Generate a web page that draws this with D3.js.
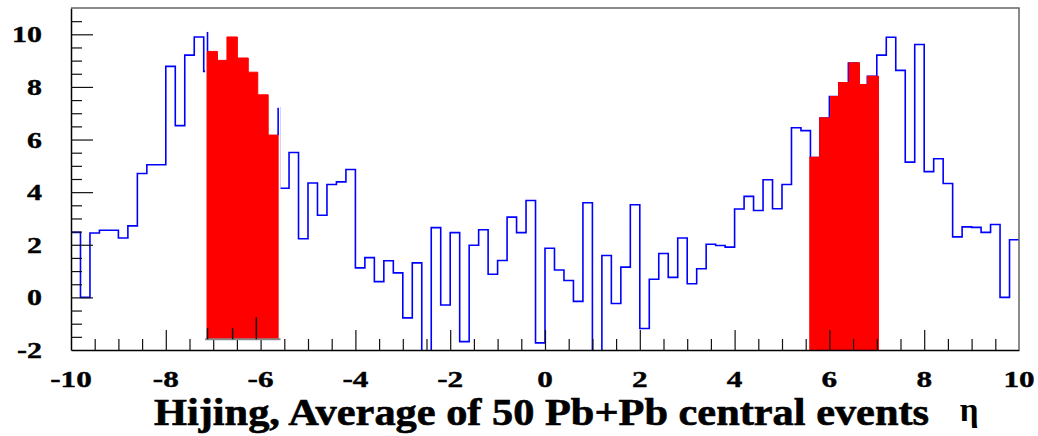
<!DOCTYPE html>
<html>
<head>
<meta charset="utf-8">
<script src="https://cdn.jsdelivr.net/npm/d3@7"></script>
<style>
  html, body { margin: 0; padding: 0; background: #fff; }
  svg { display: block; }
  text { font-family: "Liberation Serif", "DejaVu Serif", serif; font-weight: bold; fill: #000; }
</style>
</head>
<body>
<svg id="chart" width="1038" height="436"></svg>
<script>
// --- data ---
// blue histogram: 100 bins of width 0.2 from eta = -10 to 10
const etaRange = [-10, 10];
const blueValues = [
  2.47, 0.00, 2.45, 2.55, 2.55, 2.26, 2.72, 4.71, 5.04, 5.04,
  8.78, 6.53, 9.21, 9.90, 8.59, 9.01, 9.90, 9.10, 8.56, 7.70,
  6.17, 7.21, 4.15, 5.51, 2.23, 4.35, 3.12, 4.29, 4.39, 4.86,
  1.12, 1.51, 0.60, 1.39, 0.93, -0.78, 1.31, -2.60, 2.65, -0.29,
  2.46, -1.68, 1.98, 2.57, 0.88, 1.40, 3.05, 2.46, 3.68, -1.73,
  1.87, 1.04, 0.64, -0.15, 3.60, -2.60, 1.59, -0.23, 1.15, 3.52,
  -1.18, 0.69, 1.67, 0.76, 2.26, 0.52, 1.09, 2.02, 1.97, 1.91,
  3.36, 3.84, 3.30, 4.47, 3.37, 4.29, 6.45, 6.34, 5.32, 6.82,
  7.63, 8.16, 8.91, 8.08, 8.40, 9.21, 9.89, 8.63, 5.14, 9.61,
  4.78, 5.27, 4.33, 2.30, 2.68, 2.66, 2.47, 2.77, 0.00, 2.19
];

// red highlighted bins, right side (drawn in the main frame)
const redRightEdges = [5.59, 5.80, 6.03, 6.20, 6.42, 6.63, 6.81, 7.03];
const redRightValues = [5.32, 6.82, 7.63, 8.16, 8.91, 8.08, 8.40];

// red highlighted bins, left side (drawn in a small overlaid pad)
const padRange = [-7.17, -5.58];
const padBase = -1.59;
const redLeftEdges = [-7.13, -6.91, -6.71, -6.49, -6.26, -6.06, -5.84, -5.63];
const redLeftValues = [9.35, 9.01, 9.90, 9.10, 8.56, 7.70, 6.17];
const padSpikes = [
  { x: -7.12, from: 9.35, to: 10.09 },
  { x: -5.63, from: 6.17, to: 7.21 }
];
const padTickValues = [-7.12, -6.59, -6.09];
const padMajorTick = -6.09;

// axes
const yDomain = [-2, 11];
const xTickLabels = [-10, -8, -6, -4, -2, 0, 2, 4, 6, 8, 10];
const yTickLabels = [-2, 0, 2, 4, 6, 8, 10];
const titleText = "Hijing, Average of 50 Pb+Pb central events";
const axisSymbol = "η";

// --- layout ---
const width = 1038, height = 436;
const margin = { top: 8, right: 19, bottom: 86, left: 71 };
const innerWidth = width - margin.left - margin.right;
const innerHeight = height - margin.top - margin.bottom;

const svg = d3.select("#chart");
const inner = svg.append("g")
  .attr("transform", `translate(${margin.left},${margin.top})`);

const xScale = d3.scaleLinear().domain(etaRange).range([0, innerWidth]);
const yScale = d3.scaleLinear().domain(yDomain).range([innerHeight, 0]);

const binWidth = (etaRange[1] - etaRange[0]) / blueValues.length;

svg.append("defs").append("clipPath").attr("id", "plot-clip")
  .append("rect").attr("width", innerWidth).attr("height", innerHeight);

const plot = inner.append("g").attr("clip-path", "url(#plot-clip)");

// blue step outline
const bluePoints = blueValues.map((v, i) => [etaRange[0] + i * binWidth, v]);
bluePoints.push([etaRange[1], blueValues[blueValues.length - 1]]);

plot.append("path")
  .datum(bluePoints)
  .attr("fill", "none")
  .attr("stroke", "#0000ff")
  .attr("stroke-width", 1.6)
  .attr("d", d3.line()
    .x(d => xScale(d[0]))
    .y(d => yScale(d[1]))
    .curve(d3.curveStepAfter));

// helper: filled step area from edges + values
function stepArea(edges, values, base) {
  const pts = values.map((v, i) => [edges[i], v]);
  pts.push([edges[edges.length - 1], values[values.length - 1]]);
  return d3.area()
    .x(d => xScale(d[0]))
    .y0(yScale(base))
    .y1(d => yScale(d[1]))
    .curve(d3.curveStepAfter)(pts);
}

// right red bins
plot.append("path")
  .attr("d", stepArea(redRightEdges, redRightValues, yDomain[0]))
  .attr("fill", "#ff0000")
  .attr("stroke", "#ff0000")
  .attr("stroke-width", 1.5);

// --- axes (ticks inside the frame, ROOT style) ---
const xMinor = d3.range(-19, 20).map(d => d / 2);
const yMinor = d3.range(-3, 22).map(d => d / 2);

const xAxis = inner.append("g").attr("class", "axis--x")
  .attr("transform", `translate(0,${innerHeight})`)
  .call(d3.axisBottom(xScale).tickValues(xMinor).tickSizeInner(-11).tickSizeOuter(0).tickFormat(""));
xAxis.selectAll(".tick line")
  .attr("y2", d => (d % 2 === 0 ? -20 : -11));

const yAxis = inner.append("g").attr("class", "axis--y")
  .call(d3.axisLeft(yScale).tickValues(yMinor).tickSizeInner(-11).tickSizeOuter(0).tickFormat(""));
yAxis.selectAll(".tick line")
  .attr("x2", d => (d % 2 === 0 ? 22 : 11));

inner.selectAll(".axis--x path, .axis--y path")
  .attr("stroke", "#000").attr("stroke-width", 1.5);
inner.selectAll(".tick line").attr("stroke", "#111").attr("stroke-width", 1.2);

// frame top and right
inner.append("path")
  .attr("d", `M0,0H${innerWidth}V${innerHeight}`)
  .attr("fill", "none")
  .attr("stroke", "#666")
  .attr("stroke-width", 1.5);

// --- left overlay pad ---
const pad = inner.append("g").attr("class", "pad");
pad.append("rect")
  .attr("x", xScale(padRange[0]))
  .attr("width", xScale(padRange[1]) - xScale(padRange[0]))
  .attr("y", yScale(10.6))
  .attr("height", yScale(padBase) - yScale(10.6))
  .attr("fill", "#fff");

pad.append("path")
  .attr("d", stepArea(redLeftEdges, redLeftValues, padBase))
  .attr("fill", "#ff0000")
  .attr("stroke", "#ff0000")
  .attr("stroke-width", 1);

pad.selectAll(".spike")
  .data(padSpikes)
  .join("line")
    .attr("class", "spike")
    .attr("x1", d => xScale(d.x)).attr("x2", d => xScale(d.x))
    .attr("y1", d => yScale(d.from)).attr("y2", d => yScale(d.to))
    .attr("stroke", "#0000ff")
    .attr("stroke-width", 1.6);

pad.append("line")
  .attr("x1", xScale(padRange[0])).attr("x2", xScale(padRange[1]))
  .attr("y1", yScale(padBase)).attr("y2", yScale(padBase))
  .attr("stroke", "#888")
  .attr("stroke-width", 2);

pad.selectAll(".pad-tick")
  .data(padTickValues)
  .join("line")
    .attr("class", "pad-tick")
    .attr("x1", d => xScale(d)).attr("x2", d => xScale(d))
    .attr("y1", yScale(padBase))
    .attr("y2", d => yScale(padBase) - (d === padMajorTick ? 22 : 11))
    .attr("stroke", "#111")
    .attr("stroke-width", 1.5);

// --- labels (stretched wide and heavy, like the original output) ---
const labelStretch = 1.3;

inner.selectAll(".xlabel")
  .data(xTickLabels)
  .join("text")
    .attr("class", "xlabel")
    .attr("transform", d => `translate(${xScale(d)},${innerHeight + 37}) scale(${labelStretch},1)`)
    .attr("text-anchor", "middle")
    .style("font-size", "24px")
    .style("stroke", "#000")
    .style("stroke-width", 0.4)
    .text(d => d);

inner.selectAll(".ylabel")
  .data(yTickLabels)
  .join("text")
    .attr("class", "ylabel")
    .attr("transform", d => `translate(-29,${yScale(d) + 8}) scale(${labelStretch},1)`)
    .attr("text-anchor", "end")
    .style("font-size", "23px")
    .style("stroke", "#000")
    .style("stroke-width", 0.4)
    .text(d => d);

svg.append("text")
  .attr("transform", "translate(154,425) scale(1.145,1)")
  .style("font-size", "37px")
  .style("stroke", "#000")
  .style("stroke-width", 0.6)
  .text(titleText);

svg.append("text")
  .attr("x", 969)
  .attr("y", 421)
  .attr("text-anchor", "middle")
  .style("font-size", "33px")
  .text(axisSymbol);
</script>
</body>
</html>
